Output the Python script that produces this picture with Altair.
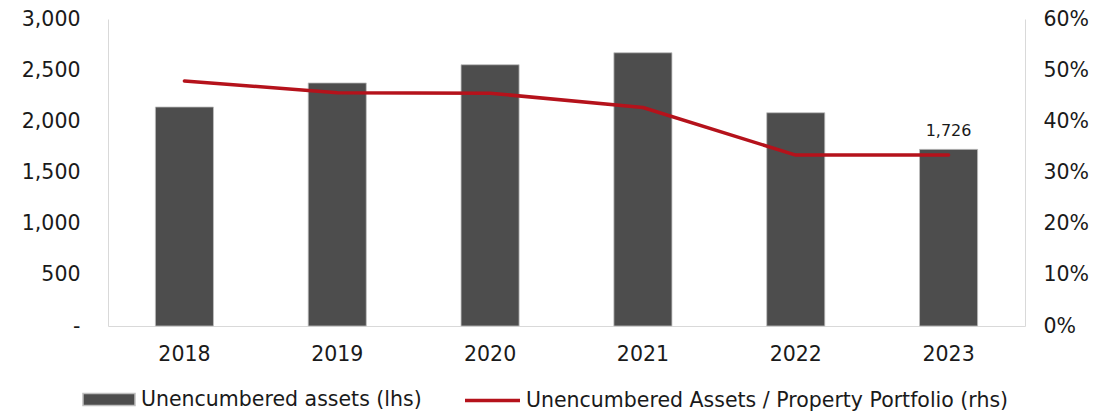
import altair as alt
import pandas as pd

years = ["2018", "2019", "2020", "2021", "2022", "2023"]
assets = [2140, 2375, 2553, 2670, 2084, 1726]
ratio = [0.479, 0.456, 0.455, 0.427, 0.334, 0.334]
bar_name = "Unencumbered assets (lhs)"
line_name = "Unencumbered Assets / Property Portfolio (rhs)"
label_year = "2023"
label_text = "1,726"

df = pd.DataFrame({"year": years, "assets": assets, "ratio": ratio})
df["bar_series"] = bar_name
df["line_series"] = line_name
lab = pd.DataFrame({"year": [label_year], "assets": [assets[years.index(label_year)]], "txt": [label_text]})

FONT = "DejaVu Sans"
FS = 20.5
TXT = "#1a1a1a"
GRID = "#d9d9d9"

x = alt.X("year:N", sort=years,
          scale=alt.Scale(paddingInner=0.62, paddingOuter=0.31),
          axis=alt.Axis(title=None, labelAngle=0, ticks=False, tickSize=0, labelPadding=18,
                        domainColor=GRID, domainWidth=1, labelFontSize=FS, labelFont=FONT,
                        labelColor=TXT, grid=False))

bars = alt.Chart(df).mark_bar(stroke="#bfbfbf", strokeWidth=0.8).encode(
    x=x,
    y=alt.Y("assets:Q", scale=alt.Scale(domain=[0, 3000], nice=False),
            axis=alt.Axis(title=None, values=[0, 500, 1000, 1500, 2000, 2500, 3000],
                          labelExpr="datum.value == 0 ? '-\u00a0\u00a0' : format(datum.value, ',')",
                          ticks=False, tickSize=0, labelPadding=28, domainColor=GRID,
                          domainWidth=1, grid=False, labelFontSize=FS, labelFont=FONT,
                          labelColor=TXT, orient="left")),
    color=alt.Color("bar_series:N",
                    scale=alt.Scale(domain=[bar_name], range=["#4d4d4d"]),
                    legend=alt.Legend(title=None, orient="none", legendX=-26, legendY=353.5,
                                      symbolType="M-1,-0.23H1V0.23H-1Z", symbolSize=2704,
                                      labelFontSize=FS, labelFont=FONT,
                                      labelColor=TXT, labelOffset=5, padding=0,
                                      labelLimit=600)),
)

text = alt.Chart(lab).mark_text(baseline="bottom", dy=-10, font=FONT, fontSize=16, color=TXT).encode(
    x=alt.X("year:N", sort=years),
    y=alt.Y("assets:Q"),
    text="txt:N",
)

left = alt.layer(bars, text)

line = alt.Chart(df).mark_line(strokeWidth=3.5, strokeJoin="round", strokeCap="round").encode(
    x=alt.X("year:N", sort=years),
    y=alt.Y("ratio:Q", scale=alt.Scale(domain=[0, 0.6], nice=False),
            axis=alt.Axis(title=None, values=[0, 0.1, 0.2, 0.3, 0.4, 0.5, 0.6], format=".0%",
                          orient="right", ticks=False, tickSize=0, labelPadding=18,
                          domainColor=GRID, domainWidth=1, grid=False, labelFontSize=FS,
                          labelFont=FONT, labelColor=TXT)),
    stroke=alt.Stroke("line_series:N",
                      scale=alt.Scale(domain=[line_name], range=["#b5121b"]),
                      legend=alt.Legend(title=None, orient="none", legendX=355, legendY=352,
                                        symbolType="stroke", symbolSize=3025,
                                        symbolStrokeWidth=3.5, labelFontSize=FS, labelFont=FONT,
                                        labelColor=TXT, labelOffset=4, padding=0,
                                        labelLimit=600)),
)

chart = alt.layer(left, line).resolve_scale(y="independent", color="independent",
                                            stroke="independent").properties(
    width=917, height=307,
    autosize=alt.AutoSizeParams(type="none"),
    padding={"left": 100, "top": 11, "right": 64, "bottom": 85},
    background="white",
).configure_view(stroke=None)

chart.save("out.html", embed_options={"renderer": "svg", "actions": False})
